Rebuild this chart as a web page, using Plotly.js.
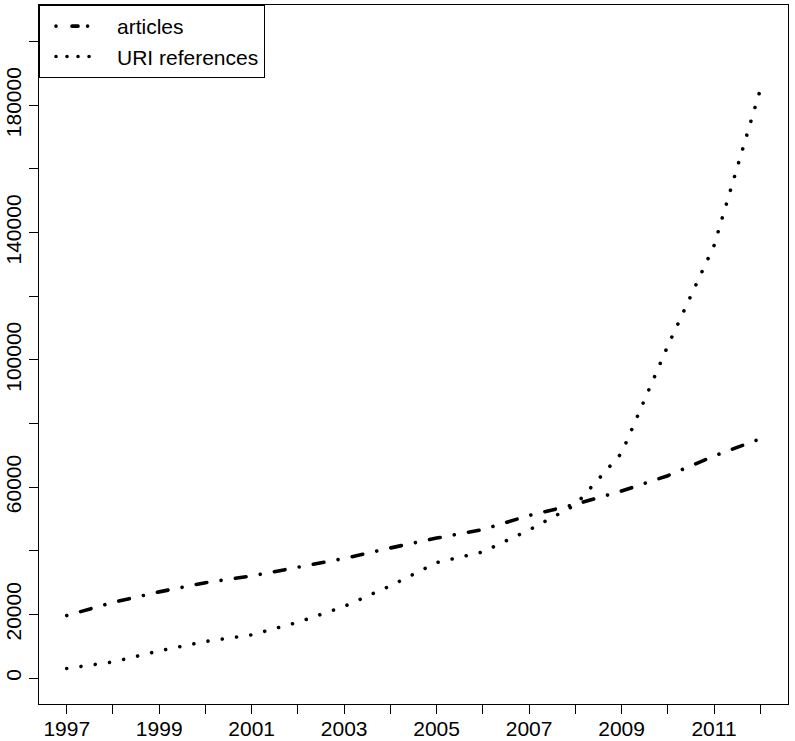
<!DOCTYPE html>
<html>
<head>
<meta charset="utf-8">
<script src="https://cdn.plot.ly/plotly-3.0.1.min.js"></script>
<style>
  html, body { margin: 0; padding: 0; background: #fff; }
  #chart { width: 795px; height: 741px; }
  #chart path.js-line { stroke-linecap: round !important; }
</style>
</head>
<body>
<div id="chart"></div>
<script>
// ---- data ----
const years = [1997, 1998, 1999, 2000, 2001, 2002, 2003, 2004, 2005, 2006, 2007, 2008, 2009, 2010, 2011, 2012];
const articles = [19650, 23800, 27100, 30000, 32100, 34800, 37600, 40900, 44000, 46700, 51100, 54600, 58800, 63600, 69800, 75200];
const uriReferences = [3040, 5080, 8560, 11500, 13600, 17550, 22500, 29000, 36300, 39650, 46550, 54400, 70700, 104400, 135900, 184900];
const seriesNames = ["articles", "URI references"];

// tick marks and labels (R drops overlapping labels)
const xTickVals = years;
const xTickText = ["1997", "", "1999", "", "2001", "", "2003", "", "2005", "", "2007", "", "2009", "", "2011", ""];
const yTickVals = [0, 20000, 40000, 60000, 80000, 100000, 120000, 140000, 160000, 180000, 200000];
const yTickText = ["0", "20000", "", "60000", "", "100000", "", "140000", "", "180000", ""];

// R-style axis ranges: data range extended by 4% on each side
const yMax = 203390;
const xPad = (years[years.length - 1] - years[0]) * 0.04;
const yPad = yMax * 0.04;

const font = { family: "Liberation Sans, Arial, Helvetica, sans-serif", size: 21, color: "#000" };

const lineDashes = ["0.01px,14.4px,10.8px,14.4px", "0.01px,14.39px"];
// shorter key samples, as in R's legend box
const legendDashes = ["0.01px 16px 6px 9.6px 0.01px 200px", "0.01px 11px 0.01px 11px 0.01px 11px 0.01px 200px"];

const traces = [
  {
    x: years, y: articles, name: seriesNames[0], mode: "lines", type: "scatter",
    line: { color: "#000", width: 3.6, dash: lineDashes[0] }
  },
  {
    x: years, y: uriReferences, name: seriesNames[1], mode: "lines", type: "scatter",
    line: { color: "#000", width: 3.6, dash: lineDashes[1] }
  }
];

const axisCommon = {
  showgrid: false, zeroline: false,
  showline: true, mirror: true, linecolor: "#000", linewidth: 1,
  ticks: "outside", ticklen: 9, tickwidth: 1, tickcolor: "#000",
  tickfont: font, tickmode: "array"
};

const layout = {
  width: 795, height: 741,
  margin: { l: 39, r: 7, t: 5, b: 37, pad: 0 },
  paper_bgcolor: "#fff", plot_bgcolor: "#fff",
  font: font,
  showlegend: true,
  legend: {
    x: 0, y: 1, xanchor: "left", yanchor: "top",
    bgcolor: "#fff", bordercolor: "#000", borderwidth: 1,
    font: font, itemwidth: 56, indentation: 11
  },
  xaxis: Object.assign({}, axisCommon, {
    range: [years[0] - xPad, years[years.length - 1] + xPad],
    tickvals: xTickVals, ticktext: xTickText, ticklabelstandoff: -3
  }),
  yaxis: Object.assign({}, axisCommon, {
    range: [-yPad, yMax + yPad],
    tickvals: yTickVals, ticktext: yTickText, tickangle: -90
  })
};

function styleLegendKeys(gd) {
  const items = gd.querySelectorAll(".legend .traces");
  items.forEach((item, i) => {
    item.querySelectorAll(".legendlines path").forEach(p => {
      p.style.setProperty("stroke-dasharray", legendDashes[i] || "", "important");
    });
  });
}

Plotly.newPlot("chart", traces, layout, { staticPlot: true, displayModeBar: false })
  .then(gd => styleLegendKeys(gd));
</script>
</body>
</html>
